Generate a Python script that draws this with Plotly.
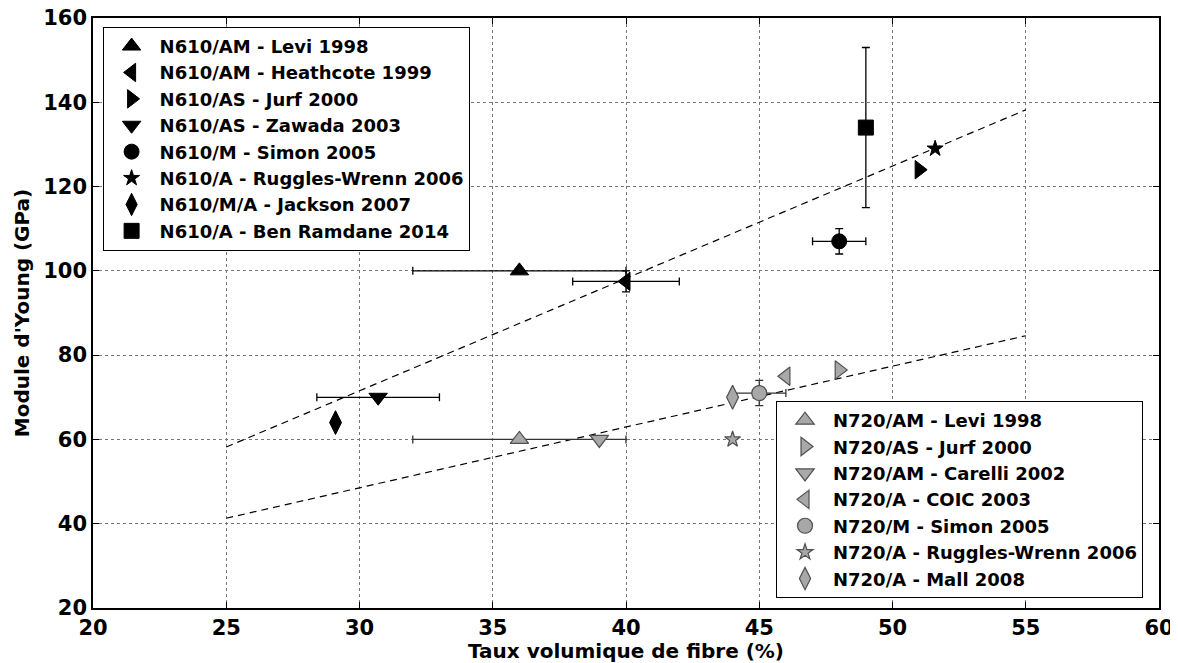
import plotly.graph_objects as go

# ---- N610 fibre data ----
n610_labels = ["N610/AM - Levi 1998", "N610/AM - Heathcote 1999", "N610/AS - Jurf 2000",
               "N610/AS - Zawada 2003", "N610/M - Simon 2005", "N610/A - Ruggles-Wrenn 2006",
               "N610/M/A - Jackson 2007", "N610/A - Ben Ramdane 2014"]
n610_x = [36, 40, 51, 30.7, 48, 51.6, 29.1, 49]
n610_y = [100, 97.5, 124, 70, 107, 129, 64, 134]
n610_xerr = [4, 2, 0, 2.3, 1, 0, 0, 0]
n610_yerr = [0, 2.5, 0, 0, 3, 0, 0, 19]
n610_symbols = ["triangle-up", "triangle-left", "triangle-right", "triangle-down",
                "circle", "star", "diamond-tall", "square"]

# ---- N720 fibre data ----
n720_labels = ["N720/AM - Levi 1998", "N720/AS - Jurf 2000", "N720/AM - Carelli 2002",
               "N720/A - COIC 2003", "N720/M - Simon 2005", "N720/A - Ruggles-Wrenn 2006",
               "N720/A - Mall 2008"]
n720_x = [36, 48, 39, 46, 45, 44, 44]
n720_y = [60, 76.5, 60, 75, 71, 60, 70]
n720_xerr = [4, 0, 0, 0, 1, 0, 0]
n720_yerr = [0, 0, 0, 0, 3, 0, 0]
n720_symbols = ["triangle-up", "triangle-right", "triangle-down", "triangle-left",
                "circle", "star", "diamond-tall"]

# ---- trend lines (end points) ----
trend_x = [25, 55]
trend_n610_y = [58.2, 138.2]
trend_n720_y = [41.3, 84.6]

x_ticks = [20, 25, 30, 35, 40, 45, 50, 55, 60]
y_ticks = [20, 40, 60, 80, 100, 120, 140, 160]

FONT = "DejaVu Sans"
sizes = {"triangle-up": 16, "triangle-left": 16, "triangle-right": 16, "triangle-down": 16,
         "circle": 15, "star": 12, "diamond-tall": 17, "square": 15}

fig = go.Figure()

for ty in (trend_n610_y, trend_n720_y):
    fig.add_trace(go.Scatter(x=trend_x, y=ty, mode="lines",
                             line=dict(color="black", width=1.2, dash="7px,5px"),
                             showlegend=False, hoverinfo="skip"))

for lab, x, y, xe, ye, sym in zip(n610_labels, n610_x, n610_y, n610_xerr, n610_yerr, n610_symbols):
    fig.add_trace(go.Scatter(
        x=[x], y=[y], mode="markers", name=lab, legend="legend",
        marker=dict(symbol=sym, size=sizes[sym], color="black",
                    line=dict(color="black", width=1)),
        error_x=dict(type="data", array=[xe], visible=xe > 0, color="black", thickness=1.3, width=4),
        error_y=dict(type="data", array=[ye], visible=ye > 0, color="black", thickness=1.3, width=4),
    ))

for lab, x, y, xe, ye, sym in zip(n720_labels, n720_x, n720_y, n720_xerr, n720_yerr, n720_symbols):
    fig.add_trace(go.Scatter(
        x=[x], y=[y], mode="markers", name=lab, legend="legend2",
        marker=dict(symbol=sym, size=sizes[sym], color="#a8a8a8",
                    line=dict(color="#505050", width=1.2)),
        error_x=dict(type="data", array=[xe], visible=xe > 0, color="#333333", thickness=1.3, width=4),
        error_y=dict(type="data", array=[ye], visible=ye > 0, color="#333333", thickness=1.3, width=4),
    ))

axis_common = dict(
    showline=True, linecolor="black", linewidth=1.5, mirror="ticks",
    ticks="inside", ticklen=6, tickwidth=1, tickcolor="black",
    showgrid=True, gridcolor="#777777", griddash="dot", gridwidth=1,
    zeroline=False, ticklabeloverflow="allow",
    tickfont=dict(family=FONT, size=21, color="black", weight="bold"),
)

legend_common = dict(bgcolor="white", bordercolor="black", borderwidth=1,
                     font=dict(family=FONT, size=18, weight="bold"),
                     tracegroupgap=0, itemwidth=46)

# page body has an 8px default margin: figure is sized/offset to fill the window
fig.update_layout(
    width=1170, height=655,
    margin=dict(l=85, r=19, t=10, b=55),
    paper_bgcolor="white", plot_bgcolor="white",
    font=dict(family=FONT, color="black"),
    xaxis=dict(range=[20, 60], tickvals=x_ticks, ticktext=[str(v) for v in x_ticks],
               title=dict(text="Taux volumique de fibre (%)", standoff=6,
                          font=dict(family=FONT, size=20, weight="bold")),
               automargin=False, **axis_common),
    yaxis=dict(range=[20, 160], tickvals=y_ticks, ticktext=[str(v) for v in y_ticks],
               title=dict(text="Module d'Young (GPa)", standoff=8,
                          font=dict(family=FONT, size=20, weight="bold")),
               automargin=False, **axis_common),
    legend=dict(x=0.009, y=0.985, xanchor="left", yanchor="top", **legend_common),
    legend2=dict(x=0.985, y=0.017, xanchor="right", yanchor="bottom", **legend_common),
    showlegend=True,
)

fig.write_html("out.html")
